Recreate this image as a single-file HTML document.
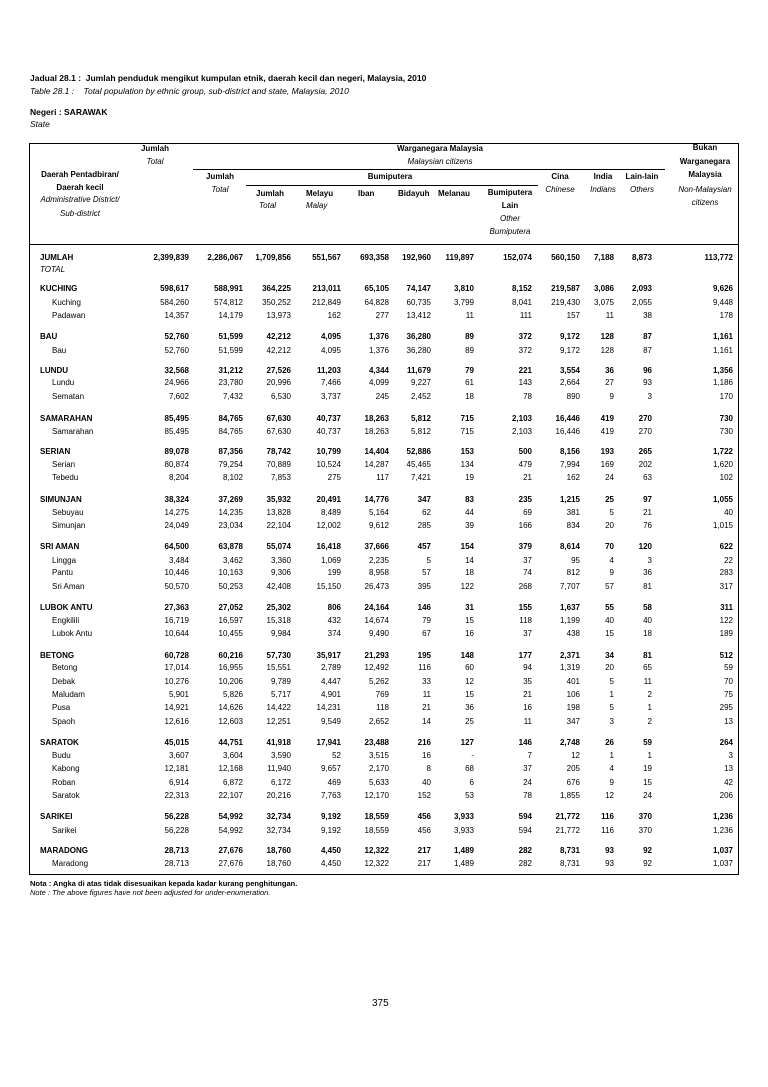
<!DOCTYPE html>
<html><head><meta charset="utf-8"><style>
body{margin:0;width:768px;height:1087px;background:#fff;position:relative;font-family:"Liberation Sans",sans-serif;font-size:8px;line-height:12px;color:#000;overflow:hidden}
.a{position:absolute;white-space:nowrap}
.i{font-style:italic}
.b{font-weight:bold}
.h{position:absolute;background:#000;height:1px}
.r{position:absolute;left:0;width:768px;height:12px}
.r span{position:absolute;text-align:right;width:60px}
.r .n{text-align:left;width:120px}
.g{font-weight:bold}
.c{text-align:center;position:absolute;white-space:nowrap}
</style></head><body>
<div class="a b" style="left:30px;top:72px;font-size:8.5px">Jadual 28.1 :&nbsp; Jumlah penduduk mengikut kumpulan etnik, daerah kecil dan negeri, Malaysia, 2010</div>
<div class="a i" style="left:30px;top:85px;font-size:8.5px">Table 28.1 : &nbsp;&nbsp; Total population by ethnic group, sub-district and state, Malaysia, 2010</div>
<div class="a b" style="left:30px;top:106px;font-size:8.5px">Negeri : SARAWAK</div>
<div class="a i" style="left:30px;top:118px;font-size:8.5px">State</div>

<div style="position:absolute;left:29px;top:143px;width:708px;height:730px;border:1px solid #000"></div>
<div class="h" style="left:193px;top:169px;width:472px"></div>
<div class="h" style="left:246px;top:185px;width:292px"></div>
<div class="h" style="left:29px;top:244px;width:710px"></div>

<div class="c b" style="left:130px;top:143px;width:50px">Jumlah</div>
<div class="c i" style="left:130px;top:156px;width:50px">Total</div>
<div class="c b" style="left:330px;top:143px;width:220px">Warganegara Malaysia</div>
<div class="c i" style="left:330px;top:156px;width:220px">Malaysian citizens</div>
<div class="c b" style="left:665px;top:141px;width:80px;line-height:13.5px">Bukan<br>Warganegara<br>Malaysia</div>
<div class="c i" style="left:655px;top:183px;width:100px;line-height:13px">Non-Malaysian<br>citizens</div>
<div class="c b" style="left:25px;top:168px;width:110px;line-height:13px">Daerah Pentadbiran/<br>Daerah kecil</div>
<div class="c i" style="left:25px;top:193px;width:110px;line-height:14px">Administrative District/<br>Sub-district</div>
<div class="c b" style="left:195px;top:171px;width:50px">Jumlah</div>
<div class="c i" style="left:195px;top:184px;width:50px">Total</div>
<div class="c b" style="left:350px;top:171px;width:80px">Bumiputera</div>
<div class="a b" style="left:256px;top:188px">Jumlah</div>
<div class="a i" style="left:259px;top:200px">Total</div>
<div class="a b" style="left:306px;top:188px">Melayu</div>
<div class="a i" style="left:306px;top:200px">Malay</div>
<div class="a b" style="left:358px;top:188px">Iban</div>
<div class="a b" style="left:398px;top:188px">Bidayuh</div>
<div class="a b" style="left:438px;top:188px">Melanau</div>
<div class="c b" style="left:480px;top:187px;width:60px;line-height:12.7px">Bumiputera<br>Lain</div>
<div class="c i" style="left:480px;top:212px;width:60px;line-height:13px">Other<br>Bumiputera</div>
<div class="c b" style="left:540px;top:171px;width:40px">Cina</div>
<div class="c i" style="left:540px;top:184px;width:40px">Chinese</div>
<div class="c b" style="left:588px;top:171px;width:30px">India</div>
<div class="c i" style="left:584px;top:184px;width:38px">Indians</div>
<div class="c b" style="left:622px;top:171px;width:40px">Lain-lain</div>
<div class="c i" style="left:622px;top:184px;width:40px">Others</div>

<div id="rows"></div>
<div class="a b" style="left:30px;top:878px;font-size:7.5px">Nota : Angka di atas tidak disesuaikan kepada kadar kurang penghitungan.</div>
<div class="a i" style="left:30px;top:887px;font-size:7.5px">Note : The above figures have not been adjusted for under-enumeration.</div>
<div class="a" style="left:372px;top:998px;font-size:10px">375</div>

<div class="a i" style="left:40px;top:264px">TOTAL</div>
<script>
var R=[189,243,291,341,389,431,474,532,580,614,652,733];
var d=[
[252,1,"JUMLAH","2,399,839 2,286,067 1,709,856 551,567 693,358 192,960 119,897 152,074 560,150 7,188 8,873 113,772"],
[284,1,"KUCHING","598,617 588,991 364,225 213,011 65,105 74,147 3,810 8,152 219,587 3,086 2,093 9,626"],
[298,0,"Kuching","584,260 574,812 350,252 212,849 64,828 60,735 3,799 8,041 219,430 3,075 2,055 9,448"],
[311,0,"Padawan","14,357 14,179 13,973 162 277 13,412 11 111 157 11 38 178"],
[333,1,"BAU","52,760 51,599 42,212 4,095 1,376 36,280 89 372 9,172 128 87 1,161"],
[347,0,"Bau","52,760 51,599 42,212 4,095 1,376 36,280 89 372 9,172 128 87 1,161"],
[367,1,"LUNDU","32,568 31,212 27,526 11,203 4,344 11,679 79 221 3,554 36 96 1,356"],
[380,0,"Lundu","24,966 23,780 20,996 7,466 4,099 9,227 61 143 2,664 27 93 1,186"],
[394,0,"Sematan","7,602 7,432 6,530 3,737 245 2,452 18 78 890 9 3 170"],
[416,1,"SAMARAHAN","85,495 84,765 67,630 40,737 18,263 5,812 715 2,103 16,446 419 270 730"],
[430,0,"Samarahan","85,495 84,765 67,630 40,737 18,263 5,812 715 2,103 16,446 419 270 730"],
[450,1,"SERIAN","89,078 87,356 78,742 10,799 14,404 52,886 153 500 8,156 193 265 1,722"],
[463,0,"Serian","80,874 79,254 70,889 10,524 14,287 45,465 134 479 7,994 169 202 1,620"],
[477,0,"Tebedu","8,204 8,102 7,853 275 117 7,421 19 21 162 24 63 102"],
[499,1,"SIMUNJAN","38,324 37,269 35,932 20,491 14,776 347 83 235 1,215 25 97 1,055"],
[512,0,"Sebuyau","14,275 14,235 13,828 8,489 5,164 62 44 69 381 5 21 40"],
[526,0,"Simunjan","24,049 23,034 22,104 12,002 9,612 285 39 166 834 20 76 1,015"],
[547,1,"SRI AMAN","64,500 63,878 55,074 16,418 37,666 457 154 379 8,614 70 120 622"],
[561,0,"Lingga","3,484 3,462 3,360 1,069 2,235 5 14 37 95 4 3 22"],
[574,0,"Pantu","10,446 10,163 9,306 199 8,958 57 18 74 812 9 36 283"],
[588,0,"Sri Aman","50,570 50,253 42,408 15,150 26,473 395 122 268 7,707 57 81 317"],
[609,1,"LUBOK ANTU","27,363 27,052 25,302 806 24,164 146 31 155 1,637 55 58 311"],
[623,0,"Engkilili","16,719 16,597 15,318 432 14,674 79 15 118 1,199 40 40 122"],
[636,0,"Lubok Antu","10,644 10,455 9,984 374 9,490 67 16 37 438 15 18 189"],
[658,1,"BETONG","60,728 60,216 57,730 35,917 21,293 195 148 177 2,371 34 81 512"],
[671,0,"Betong","17,014 16,955 15,551 2,789 12,492 116 60 94 1,319 20 65 59"],
[685,0,"Debak","10,276 10,206 9,789 4,447 5,262 33 12 35 401 5 11 70"],
[698,0,"Maludam","5,901 5,826 5,717 4,901 769 11 15 21 106 1 2 75"],
[712,0,"Pusa","14,921 14,626 14,422 14,231 118 21 36 16 198 5 1 295"],
[726,0,"Spaoh","12,616 12,603 12,251 9,549 2,652 14 25 11 347 3 2 13"],
[747,1,"SARATOK","45,015 44,751 41,918 17,941 23,488 216 127 146 2,748 26 59 264"],
[761,0,"Budu","3,607 3,604 3,590 52 3,515 16 - 7 12 1 1 3"],
[774,0,"Kabong","12,181 12,168 11,940 9,657 2,170 8 68 37 205 4 19 13"],
[788,0,"Roban","6,914 6,872 6,172 469 5,633 40 6 24 676 9 15 42"],
[801,0,"Saratok","22,313 22,107 20,216 7,763 12,170 152 53 78 1,855 12 24 206"],
[823,1,"SARIKEI","56,228 54,992 32,734 9,192 18,559 456 3,933 594 21,772 116 370 1,236"],
[837,0,"Sarikei","56,228 54,992 32,734 9,192 18,559 456 3,933 594 21,772 116 370 1,236"],
[858,1,"MARADONG","28,713 27,676 18,760 4,450 12,322 217 1,489 282 8,731 93 92 1,037"],
[871,0,"Maradong","28,713 27,676 18,760 4,450 12,322 217 1,489 282 8,731 93 92 1,037"]];
var h="";d.forEach(function(r){var v=r[3].split(" ");var t=252+(r[0]-252)*0.979;h+='<div class="r'+(r[1]?' g':'')+'" style="top:'+t.toFixed(1)+'px"><span class="n" style="left:'+(r[1]?40:52)+'px">'+r[2]+'</span>';v.forEach(function(x,i){h+='<span style="left:'+(R[i]-60)+'px">'+x+'</span>'});h+='</div>'});
document.getElementById("rows").innerHTML=h;
</script>
</body></html>
